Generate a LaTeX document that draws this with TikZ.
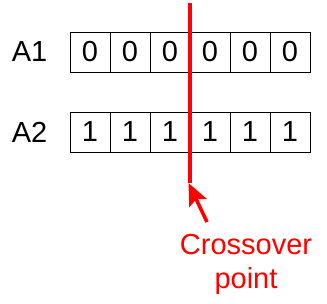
\documentclass[tikz,border=0pt]{standalone}
\usepackage{fontspec}
\setmainfont{Liberation Sans}
\usetikzlibrary{arrows.meta,positioning}
\definecolor{xred}{RGB}{255,0,0}
\tikzset{
  cell/.style={
    draw=black, line width=0.9pt, minimum size=40pt, inner sep=0pt,
    font=\fontsize{29}{34}\selectfont
  },
  lbl/.style={font=\fontsize{29}{34}\selectfont, inner sep=0pt},
  redline/.style={draw=xred, line width=3.6pt},
  redarr/.style={-{Stealth[length=22pt,width=19pt,inset=4pt]}, draw=xred, line width=3.6pt},
  note/.style={font=\fontsize{29}{34}\selectfont, text=xred, align=center, inner sep=0pt}
}
\begin{document}
\begin{tikzpicture}[x=1pt, y=-1pt]
  \useasboundingbox (0,0) rectangle (327,303);
  % the two strings
  \foreach \i in {1,...,6} {
    \node[cell] (a1c\i) at ({50+40*\i},52) {0};
    \node[cell] (a2c\i) at ({50+40*\i},132) {1};
  }
  \node[lbl, left=22pt of a1c1] (a1) {A1};
  \node[lbl, left=22pt of a2c1] (a2) {A2};
  % cut
  \coordinate (cuttop) at (190,3);
  \coordinate (cutbot) at (190,183);
  \draw[redline] (cuttop) -- (cutbot);
  \coordinate (tail) at (207,222);
  \coordinate (tip) at (188.5,183);
  \draw[redarr] (tail) -- (tip);
  \node[note, anchor=base] (cross) at (246,288) {Crossover\\point};
\end{tikzpicture}
\end{document}
